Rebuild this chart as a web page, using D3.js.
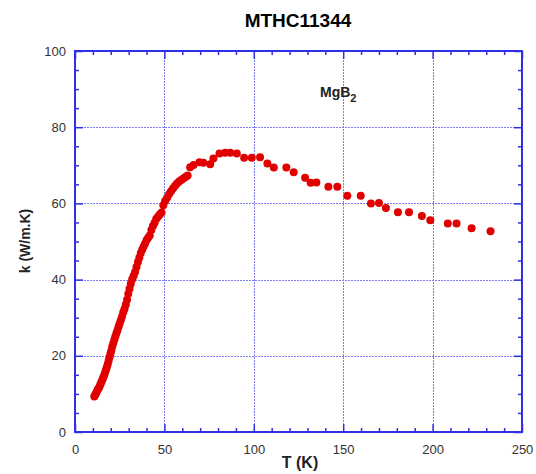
<!DOCTYPE html>
<html><head><meta charset="utf-8">
<script src="https://cdn.jsdelivr.net/npm/d3@7"></script>
<style>body{margin:0;background:#fff}svg{display:block}text{font-family:"Liberation Sans",Arial,sans-serif}</style>
</head><body>
<svg id="c" width="536" height="474"></svg>
<script>
const titleText = "MTHC11344";
const xLabel = "T (K)";
const yLabel = "k (W/m.K)";
const xTicks = [0, 50, 100, 150, 200, 250];
const yTicks = [0, 20, 40, 60, 80, 100];
const temperature = [10.8,11.3,11.8,12.3,12.8,13.3,13.8,14.3,14.8,15.3,15.8,16.3,16.8,17.3,17.8,18.3,18.8,19.3,19.8,20.3,20.8,21.4,22.0,22.6,23.2,23.8,24.4,25.0,25.6,26.3,27.0,27.7,28.4,29.1,29.8,30.5,31.2,32.0,32.8,33.6,34.4,35.2,36.0,36.8,37.6,38.4,39.2,40.0,40.9,41.8,42.7,43.6,44.5,45.4,46.4,47.4,48.4,49.4,50.4,51.5,52.6,53.7,54.8,56.0,57.2,58.4,59.6,60.8,62.0,63.0,
  64.4,66.3,69.6,71.8,75.6,77.4,80.8,84.0,86.8,90.5,94.6,98.9,103.5,107.6,111.2,118.2,122.3,128.7,131.8,135.0,141.7,146.7,152.3,159.8,165.5,170.0,173.9,180.6,186.8,194.0,198.7,208.5,213.4,221.8,232.4];
const conductivity = [9.3,9.8,10.2,10.7,11.2,11.5,12.0,12.6,13.2,13.7,14.3,14.9,15.6,16.3,17.0,17.8,18.7,19.6,20.5,21.3,22.4,23.3,24.2,25.1,26.0,26.8,27.7,28.5,29.3,30.3,31.4,32.3,33.4,34.7,36.3,37.6,38.9,40.1,41.0,42.0,43.3,44.6,45.8,47.0,47.9,48.7,49.5,50.3,51.0,51.6,53.0,54.1,54.9,55.9,56.5,57.1,57.6,59.5,60.6,61.5,62.4,63.2,63.9,64.6,65.3,65.8,66.2,66.6,67.0,67.3,
  69.5,70.1,70.8,70.7,70.3,71.8,73.1,73.3,73.3,73.1,72.0,72.0,72.1,70.5,69.4,69.4,68.2,66.7,65.4,65.5,64.4,64.4,62.0,62.0,60.0,60.1,58.8,57.7,57.7,56.7,55.6,54.7,54.7,53.5,52.7];

const svg = d3.select("#c");
const L = 75, R = 522, T = 51, B = 432;
const x = d3.scaleLinear().domain([0, 250]).range([L, R]);
const y = d3.scaleLinear().domain([0, 100]).range([B, T]);
const blue = "#2f2fe6";
const gridBlue = "#7d7df2";

// grid
const g = svg.append("g").attr("shape-rendering", "crispEdges");
g.selectAll(".gx").data(xTicks.slice(1, -1)).join("line")
  .attr("x1", d => Math.round(x(d)) + 0.5).attr("x2", d => Math.round(x(d)) + 0.5).attr("y1", T).attr("y2", B)
  .attr("stroke", gridBlue).attr("stroke-width", 1).attr("stroke-dasharray", "2,1");
g.selectAll(".gy").data(yTicks.slice(1, -1)).join("line")
  .attr("y1", d => Math.round(y(d)) + 0.5).attr("y2", d => Math.round(y(d)) + 0.5).attr("x1", L).attr("x2", R)
  .attr("stroke", gridBlue).attr("stroke-width", 1).attr("stroke-dasharray", "2,1");

// axes with inward ticks
function tickAxis(axisGen, transform, ticks, size) {
  const a = svg.append("g").attr("transform", transform)
    .call(axisGen.tickValues(ticks).tickSize(size).tickFormat(""));
  a.select(".domain").remove();
  a.selectAll("line").attr("stroke", blue).attr("stroke-width", 1.5);
  return a;
}
const xMinor = d3.range(0, 251, 10).filter(v => v % 50 !== 0);
const yMinor = d3.range(0, 101, 5).filter(v => v % 20 !== 0);
tickAxis(d3.axisTop(x), `translate(0,${B})`, xTicks, 8);
tickAxis(d3.axisTop(x), `translate(0,${B})`, xMinor, 4);
tickAxis(d3.axisBottom(x), `translate(0,${T})`, xTicks, 8);
tickAxis(d3.axisBottom(x), `translate(0,${T})`, xMinor, 4);
tickAxis(d3.axisRight(y), `translate(${L},0)`, yTicks, 8);
tickAxis(d3.axisRight(y), `translate(${L},0)`, yMinor, 4);
tickAxis(d3.axisLeft(y), `translate(${R},0)`, yTicks, 8);
tickAxis(d3.axisLeft(y), `translate(${R},0)`, yMinor, 4);

svg.append("rect").attr("x", L).attr("y", T).attr("width", R - L).attr("height", B - T)
  .attr("fill", "none").attr("stroke", blue).attr("stroke-width", 2);

// tick labels
const xl = svg.append("g").attr("transform", `translate(0,${B})`)
  .call(d3.axisBottom(x).tickValues(xTicks).tickSize(0).tickPadding(13));
xl.select(".domain").remove();
xl.selectAll("text").attr("font-size", 13).attr("fill", "#333").style("font-family", "Liberation Sans, Arial, sans-serif");
const yl = svg.append("g").attr("transform", `translate(${L},0)`)
  .call(d3.axisLeft(y).tickValues(yTicks).tickSize(0).tickPadding(9));
yl.select(".domain").remove();
yl.selectAll("text").attr("font-size", 13).attr("fill", "#333").style("font-family", "Liberation Sans, Arial, sans-serif");

// points
svg.append("g").selectAll("circle").data(temperature.map((t, i) => [t, conductivity[i]])).join("circle")
  .attr("cx", d => x(d[0])).attr("cy", d => y(d[1])).attr("r", 4).attr("fill", "#e00000");

// labels
svg.append("text").attr("x", 298).attr("y", 27).attr("text-anchor", "middle")
  .attr("font-size", 19).attr("font-weight", "bold").text(titleText);
svg.append("text").attr("x", 300).attr("y", 468).attr("text-anchor", "middle")
  .attr("font-size", 16).attr("font-weight", "bold").attr("fill", "#222").text(xLabel);
svg.append("text").attr("transform", "translate(30,241) rotate(-90)").attr("text-anchor", "middle")
  .attr("font-size", 14).attr("font-weight", "bold").attr("fill", "#222").text(yLabel);
const mg = svg.append("text").attr("x", 320).attr("y", 97).attr("font-size", 14).attr("font-weight", "bold").attr("fill", "#222");
mg.append("tspan").text("MgB");
mg.append("tspan").attr("font-size", 11).attr("dy", 5).text("2");
</script>
</body></html>
